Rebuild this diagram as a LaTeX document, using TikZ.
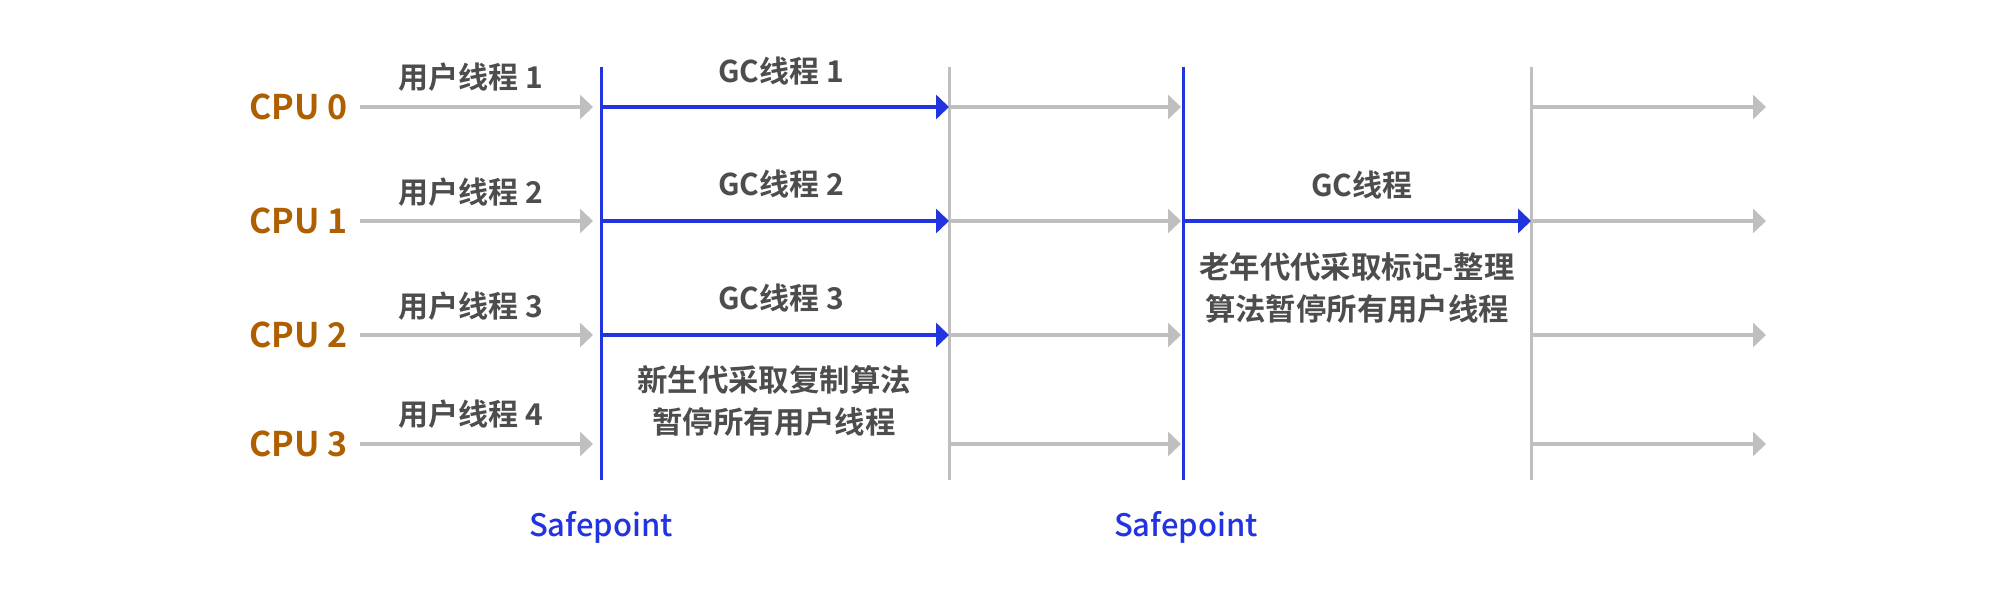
\documentclass[tikz,border=0pt]{standalone}
\usepackage{fontspec}
\setmainfont{Noto Sans CJK SC}[UprightFont=* Medium, BoldFont=* Bold]
\usetikzlibrary{arrows.meta}
\definecolor{cpucol}{HTML}{B05F00}
\definecolor{gcblue}{HTML}{2233E0}
\definecolor{lgray}{HTML}{BFBFBF}
\definecolor{txtgray}{HTML}{4D4D4D}
\tikzset{
  cpulabel/.style={anchor=east, inner sep=0pt, text=cpucol, font=\fontsize{17}{20}\selectfont\bfseries},
  lbl/.style={inner sep=0pt, text=txtgray, font=\fontsize{15}{19}\selectfont\bfseries},
  note/.style={inner sep=0pt, text=txtgray, align=center, font=\fontsize{15.2}{21}\selectfont\bfseries},
  sp/.style={inner sep=0pt, text=gcblue, font=\fontsize{15.5}{19}\selectfont},
  grayarrow/.style={draw=lgray, line width=2pt, -{Triangle[length=6.5pt,width=12pt]}},
  bluearrow/.style={draw=gcblue, line width=1.75pt, -{Triangle[length=6.5pt,width=12pt]}},
  bluevert/.style={draw=gcblue, line width=1.5pt},
  grayvert/.style={draw=lgray, line width=1.5pt}
}
\begin{document}
\begin{tikzpicture}[x=0.5pt,y=-0.5pt]
\useasboundingbox[fill=white] (0,0) rectangle (2013,597);
% vertical lines
\coordinate (v1t) at (601,67);  \coordinate (v1b) at (601,480);
\coordinate (v2t) at (949,67);  \coordinate (v2b) at (949,480);
\coordinate (v3t) at (1183,67); \coordinate (v3b) at (1183,480);
\coordinate (v4t) at (1531,67); \coordinate (v4b) at (1531,480);
\draw[bluevert] (v1t) -- (v1b);
\draw[grayvert] (v2t) -- (v2b);
\draw[bluevert] (v3t) -- (v3b);
\draw[grayvert] (v4t) -- (v4b);
% rows
\foreach \i/\y in {0/107,1/221,2/335,3/444}{
  \node[cpulabel] (cpu\i) at (348,\y) {CPU \i};
  \coordinate (a\i) at (360,\y);
  \coordinate (b\i) at (593,\y);
  \coordinate (c\i) at (601,\y);
  \coordinate (d\i) at (949,\y);
  \coordinate (e\i) at (1181,\y);
  \coordinate (f\i) at (1183,\y);
  \coordinate (g\i) at (1531,\y);
  \coordinate (h\i) at (1766,\y);
  \draw[grayarrow] (a\i) -- (b\i);
  \draw[grayarrow] (d\i) -- (e\i);
  \draw[grayarrow] (g\i) -- (h\i);
}
\draw[bluearrow] (c0) -- (d0);
\draw[bluearrow] (c1) -- (d1);
\draw[bluearrow] (c2) -- (d2);
\draw[bluearrow] (f1) -- (g1);
% labels
\node[lbl] (u1) at (471,77) {用户线程 1};
\node[lbl] (u2) at (471,192) {用户线程 2};
\node[lbl] (u3) at (471,306) {用户线程 3};
\node[lbl] (u4) at (471,414) {用户线程 4};
\node[lbl] (g1l) at (781,71) {GC线程 1};
\node[lbl] (g2l) at (781,184) {GC线程 2};
\node[lbl] (g3l) at (781,298) {GC线程 3};
\node[lbl] (gl) at (1362,185) {GC线程};
\node[note] (n1) at (774,401) {新生代采取复制算法\\暂停所有用户线程};
\node[note] (n2) at (1357,288) {老年代代采取标记-整理\\算法暂停所有用户线程};
\node[sp] (sp1) at (601,527) {Safepoint};
\node[sp] (sp2) at (1186,527) {Safepoint};
\end{tikzpicture}
\end{document}
